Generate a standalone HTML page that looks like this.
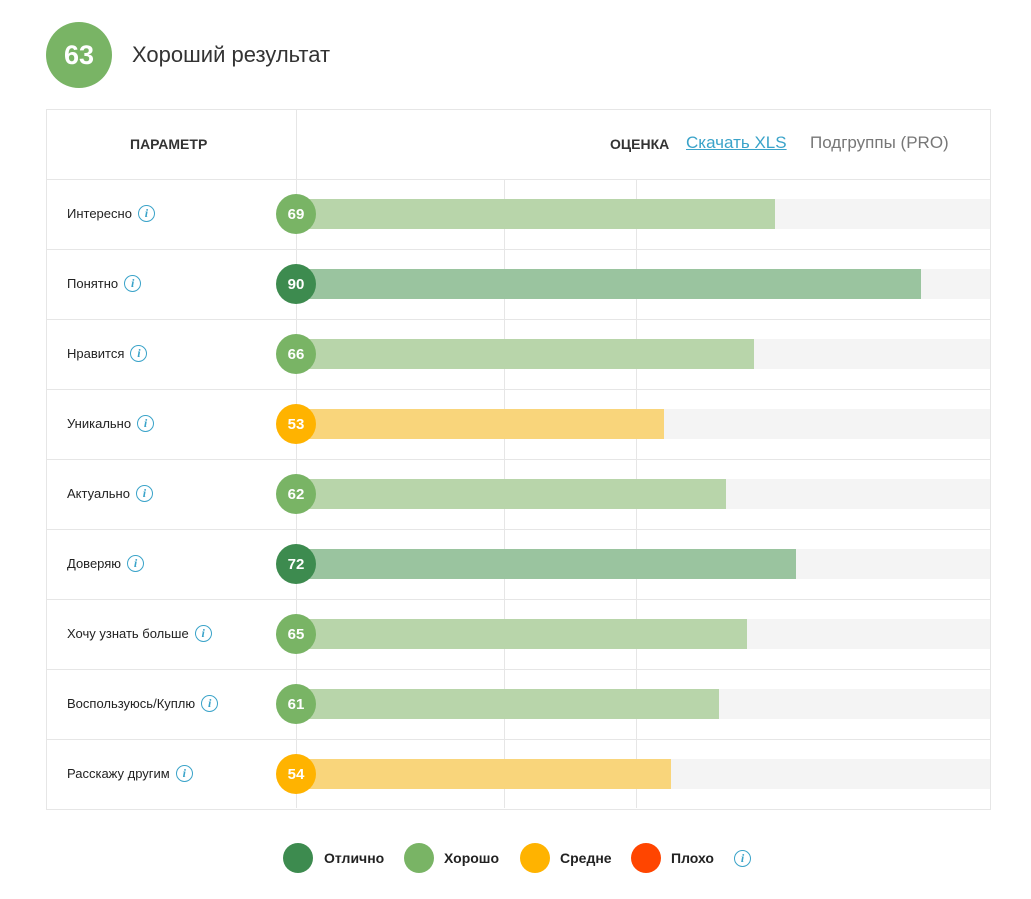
<!DOCTYPE html>
<html><head><meta charset="utf-8">
<style>
body{margin:0;width:1031px;height:899px;background:#fff;font-family:"Liberation Sans",sans-serif;position:relative;overflow:hidden}
.abs{position:absolute}
.info{position:absolute;width:15px;height:15px;border:1.3px solid #3aa3c9;border-radius:50%;color:#3aa3c9;font:italic bold 12px "Liberation Serif",serif;text-align:center;line-height:15px}
.lab{position:absolute;left:67px;font-size:13px;color:#222}
.circ{position:absolute;width:40px;height:40px;border-radius:50%;color:#fff;font-weight:bold;font-size:15px;text-align:center;line-height:42px}
.leg{position:absolute;top:843px;width:30px;height:30px;border-radius:50%}
.legt{position:absolute;top:850px;font-weight:bold;font-size:14px;color:#222}
</style></head><body>
<div class="abs" style="left:46px;top:22px;width:66px;height:66px;border-radius:50%;background:#79b465;color:#fff;font-weight:bold;font-size:27px;text-align:center;line-height:66px">63</div>
<div class="abs" style="left:132px;top:42px;font-size:22px;color:#333">Хороший результат</div>
<div class="abs" style="left:46px;top:109px;width:943px;height:699px;border:1px solid #e6e6e6"></div>
<div class="abs" style="left:296px;top:110px;width:1px;height:698px;background:#e6e6e6"></div>
<div class="abs" style="left:130px;top:136px;font-weight:bold;font-size:14px;color:#333">ПАРАМЕТР</div>
<div class="abs" style="left:610px;top:136px;font-weight:bold;font-size:14px;color:#333">ОЦЕНКА</div>
<div class="abs" style="left:686px;top:133px;font-size:17px;color:#3aa3c9;text-decoration:underline">Скачать XLS</div>
<div class="abs" style="left:810px;top:133px;font-size:17px;color:#777">Подгруппы (PRO)</div>
<div id="chart"></div>
<div class="leg" style="left:283px;background:#3d8b4f"></div>
<div class="legt" style="left:324px">Отлично</div>
<div class="leg" style="left:404px;background:#79b465"></div>
<div class="legt" style="left:444px">Хорошо</div>
<div class="leg" style="left:520px;background:#ffb300"></div>
<div class="legt" style="left:560px">Средне</div>
<div class="leg" style="left:631px;background:#ff4500"></div>
<div class="legt" style="left:671px">Плохо</div>
<div class="info" style="left:734px;top:850px">i</div>
<script>
const categories=["Интересно","Понятно","Нравится","Уникально","Актуально","Доверяю","Хочу узнать больше","Воспользуюсь/Куплю","Расскажу другим"];
const scores=[69,90,66,53,62,72,65,61,54];
const gridVals=[30,49];
const x0=296,x1=990,top0=179,rowH=70;
function xs(v){return x0+(x1-x0)*v/100;}
function tier(v){return v>=70?["#3d8b4f","#9ac49f"]:v>=60?["#79b465","#b8d5aa"]:v>=40?["#ffb300","#f9d57b"]:["#ff4500","#ffab8c"];}
const c=document.getElementById('chart');
function add(h){const d=document.createElement('div');d.innerHTML=h;const e=d.firstChild;c.appendChild(e);return e;}
gridVals.forEach(g=>{const e=add(`<div class="abs" style="left:${Math.round(xs(g))}px;top:180px;width:1px;height:628px;background:#e6e6e6"></div>`);

});
categories.forEach((cat,i)=>{
 const y=top0+i*rowH, v=scores[i], t=tier(v);
 const s=add(`<div class="abs" style="left:47px;top:${y}px;width:943px;height:1px;background:#e6e6e6"></div>`);
 
 
 const tr=add(`<div class="abs" style="left:${x0}px;top:${y+20}px;width:${x1-x0}px;height:30px;background:#f4f4f4"></div>`);
 
 
 const b=add(`<div class="abs" style="left:${x0}px;top:${y+20}px;width:${xs(v)-x0}px;height:30px;background:${t[1]}"></div>`);
 
 
 const ci=add(`<div class="circ" style="left:${x0-20}px;top:${y+15}px;background:${t[0]}">${v}</div>`);
 
 
 const l=add(`<div class="lab" style="top:${y+27}px">${cat}</div>`);
 
 
 const w=l.getBoundingClientRect().width;
 const ic=add(`<div class="info" style="left:${67+w+6}px;top:${y+26}px">i</div>`);
 
 
});
</script>
</body></html>
